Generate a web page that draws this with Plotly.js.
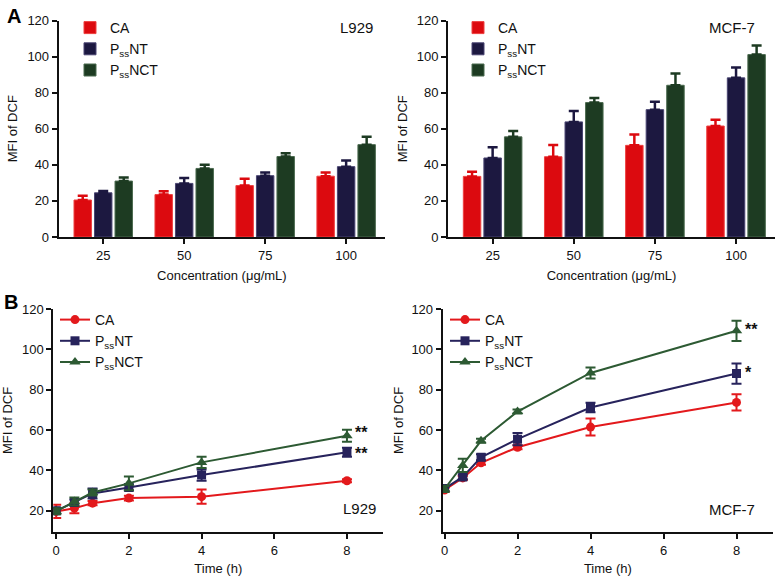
<!DOCTYPE html>
<html>
<head>
<meta charset="utf-8">
<script src="https://cdn.plot.ly/plotly-3.0.1.min.js"></script>
<style>html,body{margin:0;padding:0;background:#fff;}#chart{width:780px;height:576px;}</style>
</head>
<body>
<div id="chart"></div>
<script>
// ---------- data ----------
const seriesNames = ['CA', 'P<sub>ss</sub>NT', 'P<sub>ss</sub>NCT'];
const concLabels = ['25', '50', '75', '100'];

// Panel A – L929 (MFI of DCF vs concentration)
const l929BarCA = [20.5, 23.5, 28.5, 33.7];
const l929BarCAErr = [2.4, 1.8, 3.8, 2.0];
const l929BarNT = [24.5, 29.7, 34.0, 39.0];
const l929BarNTErr = [1.0, 3.0, 1.8, 3.4];
const l929BarNCT = [31.0, 38.0, 44.6, 51.2];
const l929BarNCTErr = [2.0, 2.0, 1.8, 4.4];

// Panel A – MCF-7
const mcfBarCA = [33.6, 44.5, 50.8, 61.5];
const mcfBarCAErr = [2.6, 6.5, 6.0, 3.5];
const mcfBarNT = [43.8, 63.8, 70.6, 88.2];
const mcfBarNTErr = [6.0, 6.0, 4.3, 5.8];
const mcfBarNCT = [55.5, 74.5, 84.1, 101.1];
const mcfBarNCTErr = [3.2, 2.6, 6.5, 5.0];

// Panel B – time course
const timeH = [0, 0.5, 1, 2, 4, 8];
const l929LineCA = [19.7, 21.3, 23.8, 26.3, 27.0, 34.9];
const l929LineCAErr = [3.3, 2.5, 1.0, 1.2, 3.5, 0.8];
const l929LineNT = [20.0, 24.1, 28.6, 31.6, 37.7, 49.0];
const l929LineNTErr = [1.5, 1.5, 2.5, 1.5, 2.8, 2.2];
const l929LineNCT = [19.8, 24.6, 29.1, 33.6, 44.0, 57.2];
const l929LineNCTErr = [1.5, 2.0, 1.5, 3.4, 2.8, 3.0];

const mcfLineCA = [30.3, 36.3, 43.8, 51.5, 61.5, 73.7];
const mcfLineCAErr = [1.0, 1.0, 1.0, 1.0, 4.2, 4.0];
const mcfLineNT = [31.0, 36.8, 46.5, 55.5, 71.2, 88.0];
const mcfLineNTErr = [1.0, 1.2, 1.5, 3.0, 2.4, 5.0];
const mcfLineNCT = [30.8, 42.5, 54.7, 69.2, 88.3, 109.2];
const mcfLineNCTErr = [1.5, 3.3, 1.0, 1.0, 2.7, 5.0];

// significance marks at 8 h (PssNCT, PssNT)
const l929Stars = ['**', '**'];
const mcfStars = ['**', '*'];

// ---------- styles ----------
const barColors = ['#dc0a0f', '#1c1840', '#1d3b22'];
const barEdges = ['#ee4040', '#4a4572', '#4b6a4f'];
const lineColors = ['#e3191c', '#27235c', '#2d5a33'];
const symbols = ['circle', 'square', 'triangle-up'];
const FONT = 'Liberation Sans, Arial, Helvetica, sans-serif';

function barTrace(name, y, err, i, xa, ya, leg) {
  return {
    type: 'bar', name: name, x: concLabels, y: y,
    xaxis: xa, yaxis: ya, legend: leg,
    marker: {color: barColors[i], line: {color: barEdges[i], width: 1}},
    error_y: {type: 'data', symmetric: false, array: err, arrayminus: err.map(() => 0),
              color: barColors[i], thickness: 2.5, width: 5},
    hoverinfo: 'skip'
  };
}
function lineTrace(name, y, err, i, xa, ya, leg) {
  return {
    type: 'scatter', mode: 'lines+markers', name: name, x: timeH, y: y,
    xaxis: xa, yaxis: ya, legend: leg,
    line: {color: lineColors[i], width: 2},
    marker: {color: lineColors[i], symbol: symbols[i], size: i === 2 ? 10 : 9},
    error_y: {type: 'data', array: err, color: lineColors[i], thickness: 2, width: 5},
    hoverinfo: 'skip'
  };
}

const traces = [
  barTrace(seriesNames[0], l929BarCA, l929BarCAErr, 0, 'x', 'y', 'legend'),
  barTrace(seriesNames[1], l929BarNT, l929BarNTErr, 1, 'x', 'y', 'legend'),
  barTrace(seriesNames[2], l929BarNCT, l929BarNCTErr, 2, 'x', 'y', 'legend'),
  barTrace(seriesNames[0], mcfBarCA, mcfBarCAErr, 0, 'x2', 'y2', 'legend2'),
  barTrace(seriesNames[1], mcfBarNT, mcfBarNTErr, 1, 'x2', 'y2', 'legend2'),
  barTrace(seriesNames[2], mcfBarNCT, mcfBarNCTErr, 2, 'x2', 'y2', 'legend2'),
  lineTrace(seriesNames[0], l929LineCA, l929LineCAErr, 0, 'x3', 'y3', 'legend3'),
  lineTrace(seriesNames[1], l929LineNT, l929LineNTErr, 1, 'x3', 'y3', 'legend3'),
  lineTrace(seriesNames[2], l929LineNCT, l929LineNCTErr, 2, 'x3', 'y3', 'legend3'),
  lineTrace(seriesNames[0], mcfLineCA, mcfLineCAErr, 0, 'x4', 'y4', 'legend4'),
  lineTrace(seriesNames[1], mcfLineNT, mcfLineNTErr, 1, 'x4', 'y4', 'legend4'),
  lineTrace(seriesNames[2], mcfLineNCT, mcfLineNCTErr, 2, 'x4', 'y4', 'legend4')
];

const tickFont = {family: FONT, size: 13, color: '#111'};
const titleFont = {family: FONT, size: 13, color: '#111'};
function axisBase(extra) {
  return Object.assign({
    showline: true, linecolor: '#111', linewidth: 2,
    ticks: 'outside', ticklen: 5, tickwidth: 2, tickcolor: '#111',
    showgrid: false, zeroline: false, tickfont: tickFont, fixedrange: true
  }, extra);
}
const W = 780, H = 576;
const px = v => v / W, py = v => 1 - v / H;

const legendBase = {
  bgcolor: 'rgba(0,0,0,0)', font: {family: FONT, size: 14, color: '#111'},
  xanchor: 'left', yanchor: 'top', tracegroupgap: 0
};

const last = arr => arr[arr.length - 1];
const tEnd = last(timeH);
const starFont = {family: FONT, size: 16, color: '#111'};
const annotations = [
  // L929: two close marks stacked in one text block between the two series ends
  {xref: 'x3', yref: 'y3', x: tEnd, y: (last(l929LineNCT) + last(l929LineNT)) / 2,
   text: l929Stars.map(s => '<b>' + s + '</b>').join('<br>'), showarrow: false,
   xanchor: 'left', yanchor: 'middle', xshift: 6, yshift: 1, font: starFont},
  {xref: 'x4', yref: 'y4', x: tEnd, y: last(mcfLineNCT), text: '<b>' + mcfStars[0] + '</b>', showarrow: false,
   xanchor: 'left', yanchor: 'middle', xshift: 6, yshift: 1, font: starFont},
  {xref: 'x4', yref: 'y4', x: tEnd, y: last(mcfLineNT), text: '<b>' + mcfStars[1] + '</b>', showarrow: false,
   xanchor: 'left', yanchor: 'middle', xshift: 6, yshift: 1, font: starFont}
];
const labelFont = {family: FONT, size: 15, color: '#111'};
annotations.push(
  {xref: 'paper', yref: 'paper', x: px(5), y: py(3), text: '<b>A</b>', showarrow: false, xanchor: 'left', yanchor: 'top', font: {family: FONT, size: 20, color: '#000'}},
  {xref: 'paper', yref: 'paper', x: px(2), y: py(289), text: '<b>B</b>', showarrow: false, xanchor: 'left', yanchor: 'top', font: {family: FONT, size: 20, color: '#000'}},
  {xref: 'paper', yref: 'paper', x: px(356), y: py(27), text: 'L929', showarrow: false, xanchor: 'center', yanchor: 'middle', font: labelFont},
  {xref: 'paper', yref: 'paper', x: px(732), y: py(27), text: 'MCF-7', showarrow: false, xanchor: 'center', yanchor: 'middle', font: labelFont},
  {xref: 'paper', yref: 'paper', x: px(359), y: py(508), text: 'L929', showarrow: false, xanchor: 'center', yanchor: 'middle', font: labelFont},
  {xref: 'paper', yref: 'paper', x: px(732), y: py(509), text: 'MCF-7', showarrow: false, xanchor: 'center', yanchor: 'middle', font: labelFont}
);

const layout = {
  width: W, height: H,
  margin: {l: 0, r: 0, t: 0, b: 0},
  paper_bgcolor: '#fff', plot_bgcolor: 'rgba(0,0,0,0)',
  font: {family: FONT, color: '#111'},
  barmode: 'group', bargap: 0.24, bargroupgap: 0.15,
  showlegend: true,
  xaxis: axisBase({domain: [px(58.7), px(385)], anchor: 'y', type: 'category', range: [-0.55, 3.48],
    title: {text: 'Concentration (μg/mL)', font: titleFont, standoff: 9}}),
  yaxis: axisBase({domain: [py(237), py(20.5)], anchor: 'x', range: [0, 120], tickvals: [0, 20, 40, 60, 80, 100, 120],
    title: {text: 'MFI of DCF', font: titleFont, standoff: 7}}),
  xaxis2: axisBase({domain: [px(448), px(775)], anchor: 'y2', type: 'category', range: [-0.55, 3.48],
    title: {text: 'Concentration (μg/mL)', font: titleFont, standoff: 9}}),
  yaxis2: axisBase({domain: [py(237), py(20.5)], anchor: 'x2', range: [0, 120], tickvals: [0, 20, 40, 60, 80, 100, 120],
    title: {text: 'MFI of DCF', font: titleFont, standoff: 6}}),
  xaxis3: axisBase({domain: [px(53.3), px(383.3)], anchor: 'y3', range: [-0.08, 9], tickvals: [0, 2, 4, 6, 8],
    title: {text: 'Time (h)', font: titleFont, standoff: 7}}),
  yaxis3: axisBase({domain: [py(532), py(309)], anchor: 'x3', range: [9.5, 120], tickvals: [20, 40, 60, 80, 100, 120],
    title: {text: 'MFI of DCF', font: titleFont, standoff: 10}}),
  xaxis4: axisBase({domain: [px(442.7), px(773)], anchor: 'y4', range: [-0.05, 9], tickvals: [0, 2, 4, 6, 8],
    title: {text: 'Time (h)', font: titleFont, standoff: 7}}),
  yaxis4: axisBase({domain: [py(532), py(309)], anchor: 'x4', range: [9.5, 120], tickvals: [20, 40, 60, 80, 100, 120],
    title: {text: 'MFI of DCF', font: titleFont, standoff: 5}}),
  legend: Object.assign({}, legendBase, {x: px(70), y: py(12)}),
  legend2: Object.assign({}, legendBase, {x: px(458), y: py(12)}),
  legend3: Object.assign({}, legendBase, {x: px(55), y: py(304)}),
  legend4: Object.assign({}, legendBase, {x: px(445), y: py(304)}),
  annotations: annotations
};

Plotly.newPlot('chart', traces, layout, {displayModeBar: false, staticPlot: true});
</script>
</body>
</html>
